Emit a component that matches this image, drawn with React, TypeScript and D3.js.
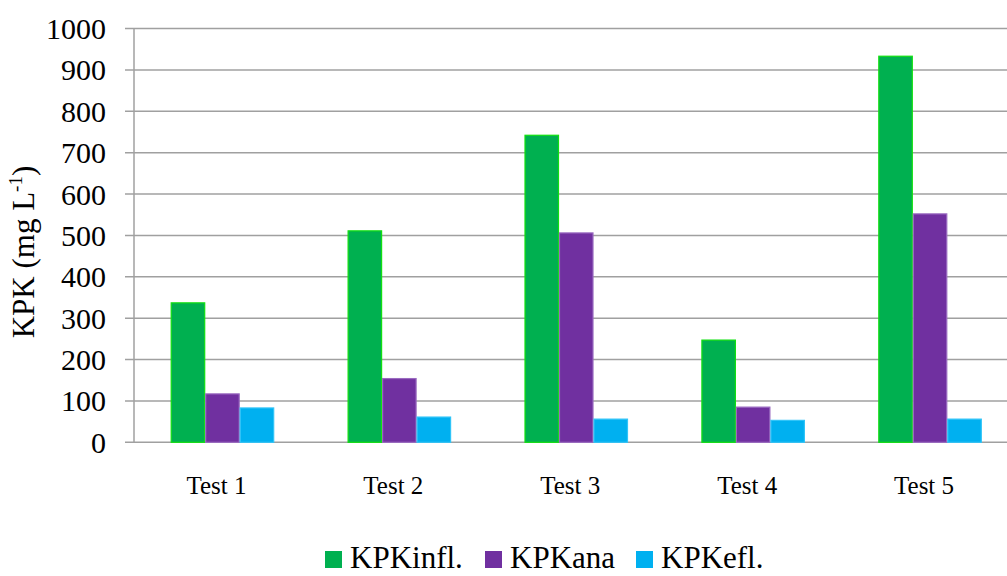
import React from "react";
import * as d3 from "d3";

const categories = ["Test 1", "Test 2", "Test 3", "Test 4", "Test 5"];
const seriesNames = ["KPKinfl.", "KPKana", "KPKefl."];
const kpkInfl = [337, 511, 742, 247, 933];
const kpkAna = [117, 154, 506, 85, 552];
const kpkEfl = [83, 61, 56, 53, 56];
const yTicks = [0, 100, 200, 300, 400, 500, 600, 700, 800, 900, 1000];

const seriesValues = [kpkInfl, kpkAna, kpkEfl];
const fills = ["#00B050", "#7030A0", "#00B0F0"];
const strokes = ["#10E010", "#9A6AC0", "#30C4F8"];

const W = 1007;
const H = 576;
const textStyle = { fontFamily: "Liberation Serif" };

export default function App() {
  const y = d3.scaleLinear().domain([0, 1000]).range([442.3, 28.5]);
  const x0 = d3
    .scaleBand<string>()
    .domain(categories)
    .range([134, 1018.5])
    .paddingInner(0.415)
    .paddingOuter(0.2075);
  const x1 = d3
    .scaleBand<string>()
    .domain(seriesNames)
    .range([0, x0.bandwidth()]);

  const legendX = [325, 485, 636];

  return (
    <svg
      width={W}
      height={H}
      style={{ position: "absolute", left: 0, top: 0, background: "#fff" }}
    >
      <defs>
        <clipPath id="clip">
          <rect x={0} y={0} width={W} height={H} />
        </clipPath>
      </defs>
      <g clipPath="url(#clip)">
        {yTicks.map((t) => (
          <line
            key={t}
            x1={125}
            x2={W}
            y1={y(t)}
            y2={y(t)}
            stroke="#a0a0a0"
            strokeWidth={1.5}
          />
        ))}
        <line x1={134} x2={134} y1={y(1000)} y2={y(0)} stroke="#a0a0a0" strokeWidth={1.5} />
        {categories.map((c, ci) => (
          <g key={c} transform={`translate(${x0(c)},0)`}>
            {seriesNames.map((s, si) => {
              const v = seriesValues[si][ci];
              return (
                <rect
                  key={s}
                  x={x1(s)! + 0.5}
                  y={y(v)}
                  width={x1.bandwidth() - 1}
                  height={y(0) - y(v)}
                  fill={fills[si]}
                  stroke={strokes[si]}
                  strokeWidth={1.2}
                />
              );
            })}
          </g>
        ))}
        {yTicks.map((t) => (
          <text
            key={t}
            x={106}
            y={y(t)}
            dy="0.35em"
            textAnchor="end"
            fontSize={30}
            fill="#000"
            style={textStyle}
          >
            {t}
          </text>
        ))}
        {categories.map((c) => (
          <text
            key={c}
            x={x0(c)! + x0.bandwidth() / 2 - 6}
            y={494}
            textAnchor="middle"
            fontSize={25}
            fill="#000"
            style={textStyle}
          >
            {c}
          </text>
        ))}
        <text
          transform="translate(34,252) rotate(-90)"
          textAnchor="middle"
          fontSize={31}
          fill="#000"
          style={textStyle}
        >
          KPK (mg L
          <tspan dy={-12} fontSize={19}>
            -1
          </tspan>
          <tspan dy={12}>)</tspan>
        </text>
        {seriesNames.map((s, i) => (
          <g key={s}>
            <rect x={legendX[i]} y={551} width={17} height={17} fill={fills[i]} />
            <text x={legendX[i] + 25} y={568} fontSize={31} fill="#000" style={textStyle}>
              {s}
            </text>
          </g>
        ))}
      </g>
    </svg>
  );
}
